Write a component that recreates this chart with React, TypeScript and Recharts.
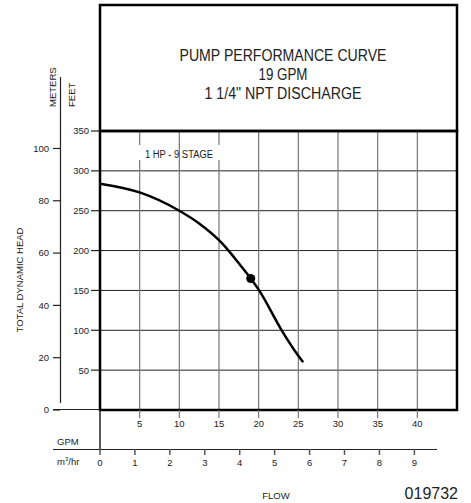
import { ComposedChart, Line, XAxis, YAxis, CartesianGrid, Customized } from 'recharts';

// pump curve: flow (GPM) vs total dynamic head (feet)
const flowGpm = [0, 5, 10, 12.5, 15, 16.2, 17.5, 19, 20, 22.9, 25, 25.6];
const headFeet = [284, 273, 250, 234, 213, 200, 184, 165, 151, 100, 68, 60];
const dutyGpm = 19;
const dutyFeet = 165;

const gpmTicks = [5, 10, 15, 20, 25, 30, 35, 40];
const feetTicks = [50, 100, 150, 200, 250, 300, 350];
const meterTicks = [0, 20, 40, 60, 80, 100];
const m3hrTicks = [0, 1, 2, 3, 4, 5, 6, 7, 8, 9];
const titleLines = ['PUMP PERFORMANCE CURVE', '19 GPM', '1 1/4" NPT DISCHARGE'];
const curveLabel = '1 HP - 9 STAGE';

const GPM_MAX = 45;
const FEET_MAX = 350;
const FT_TO_M = 0.3048;
const GPM_TO_M3HR = 0.2271247;

const data = flowGpm.map((gpm, i) => ({
    gpm,
    feet: headFeet[i],
    duty: gpm === dutyGpm ? dutyFeet : null,
}));

const W = 471;
const H = 503;
const left = 100;
const right = 457;
const top = 131;
const bottom = 410;
const font = '"Liberation Sans", Arial, sans-serif';
const ink = '#222';

const xOf = (gpm: number) => left + (gpm / GPM_MAX) * (right - left);

function Overlay() {
    return (
        <g fontFamily={font} fill={ink}>
            {/* title box */}
            <rect x={left} y={5} width={right - left} height={top - 5} fill="none" stroke="#000" strokeWidth={2.5} />
            {titleLines.map((t, i) => (
                <text key={t} x={283} y={61 + i * 19} textAnchor="middle" fontSize={16}
                    textLength={[207, 49, 157][i]} lengthAdjust="spacingAndGlyphs">
                    {t}
                </text>
            ))}

            {/* plot frame */}
            <rect x={left} y={top} width={right - left} height={bottom - top} fill="none" stroke="#000" strokeWidth={2.5} />

            {/* curve label */}
            <rect x={xOf(5) - 2} y={145} width={xOf(15) - xOf(5) + 4} height={15} fill="#fff" />
            <line x1={xOf(10)} x2={xOf(10)} y1={144} y2={161} stroke="#777" strokeWidth={1.2} />
            <text x={145} y={157.5} fontSize={10} textLength={68} lengthAdjust="spacingAndGlyphs">{curveLabel}</text>

            {/* left scales */}
            <line x1={60.5} x2={60.5} y1={77} y2={403} stroke="#222" strokeWidth={1.2} />
            <line x1={53} x2={left} y1={bottom - 0.5} y2={bottom - 0.5} stroke="#222" strokeWidth={1.2} />
            <text transform="translate(56,107) rotate(-90)" fontSize={9.5}>METERS</text>
            <text transform="translate(75,107) rotate(-90)" fontSize={9.5}>FEET</text>
            <text transform="translate(23,280) rotate(-90)" fontSize={9.5} textAnchor="middle">TOTAL DYNAMIC HEAD</text>

            {/* bottom scales */}
            <line x1={left} x2={left} y1={bottom} y2={449.5} stroke="#222" strokeWidth={1.5} />
            <line x1={53} x2={437} y1={449.5} y2={449.5} stroke="#222" strokeWidth={1.2} />
            <text x={57} y={445} fontSize={9.5}>GPM</text>
            <text x={57} y={465} fontSize={9.5}>m<tspan fontSize={6} dy={-4}>3</tspan><tspan dy={4}>/hr</tspan></text>
            <text x={276} y={498.5} fontSize={9.5} textAnchor="middle">FLOW</text>
            <text x={458} y={499} fontSize={16} textAnchor="end">019732</text>
        </g>
    );
}

export default function App() {
    const tick = { fontSize: 9.5, fill: ink, fontFamily: font };
    return (
        <div style={{ position: 'absolute', left: 0, top: 0, width: W, height: H, background: '#fff' }}>
            <ComposedChart width={W} height={H} data={data} margin={{ top, right: W - right, left: 0, bottom: 24 }}>
                <XAxis xAxisId="gpm" dataKey="gpm" type="number" domain={[0, GPM_MAX]} ticks={gpmTicks}
                    height={39} tickSize={8} tickMargin={2} axisLine={false}
                    tickLine={{ stroke: '#777', strokeWidth: 1.2 }} tick={tick} allowDataOverflow />
                {/* m3/hr scale shares the GPM domain; ticks are placed at their GPM equivalents */}
                <XAxis xAxisId="m3" dataKey="gpm" type="number" domain={[0, GPM_MAX]}
                    ticks={m3hrTicks.map((v) => v / GPM_TO_M3HR)}
                    tickFormatter={(v: number) => String(Math.round(v * GPM_TO_M3HR))}
                    height={30} tickSize={6} tickMargin={4} axisLine={false}
                    tickLine={{ stroke: '#555', strokeWidth: 1.5 }} tick={tick} allowDataOverflow />
                <YAxis yAxisId="ft" type="number" domain={[0, FEET_MAX]} ticks={feetTicks}
                    width={40} tickSize={9} tickMargin={2} axisLine={false}
                    tickLine={{ stroke: '#222', strokeWidth: 1.2 }} tick={tick} allowDataOverflow />
                <YAxis yAxisId="m" type="number" domain={[0, FEET_MAX * FT_TO_M]} ticks={meterTicks}
                    width={60} tickSize={7} tickMargin={4} axisLine={false}
                    tickLine={{ stroke: '#222', strokeWidth: 1.2 }} tick={tick} allowDataOverflow />
                <CartesianGrid xAxisId="gpm" yAxisId="ft" vertical={false} stroke="#222" strokeWidth={1} />
                <CartesianGrid xAxisId="gpm" yAxisId="ft" horizontal={false} stroke="#777" strokeWidth={1.2} />
                <Line xAxisId="gpm" yAxisId="ft" dataKey="feet" type="monotone" stroke="#000" strokeWidth={2.5}
                    dot={false} isAnimationActive={false} />
                <Line xAxisId="gpm" yAxisId="ft" dataKey="duty" stroke="none" dot={{ r: 4.5, fill: '#000', stroke: 'none' }}
                    isAnimationActive={false} />
                <Customized component={<Overlay />} />
            </ComposedChart>
        </div>
    );
}
